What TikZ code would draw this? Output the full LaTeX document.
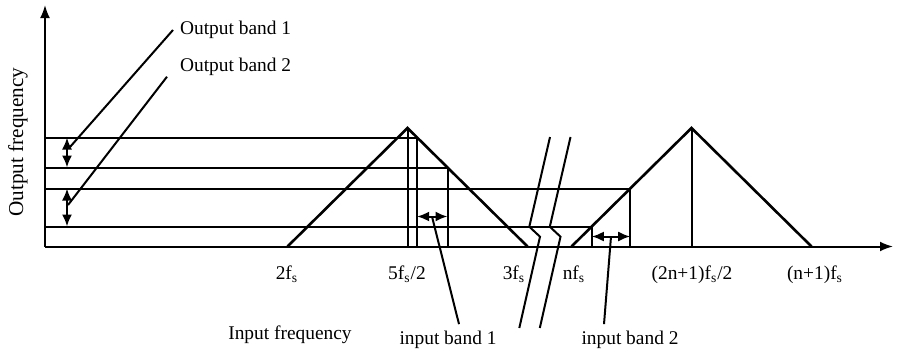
\documentclass[tikz,border=0pt]{standalone}
\usepackage{fontspec}
\setmainfont{Liberation Serif}
\usetikzlibrary{arrows.meta,calc,positioning}

\begin{document}
\begin{tikzpicture}[x=0.5pt,y=0.5pt,font=\fontsize{9.7pt}{11pt}\selectfont,
  ln/.style={line width=1pt},
  tri/.style={line width=1.3pt,line join=miter},
  band/.style={line width=1pt,{Latex[length=6pt,width=5pt]}-{Latex[length=6pt,width=5pt]}}]
\useasboundingbox (-45,-107.5) rectangle (852,246.5);
% axes
\draw[ln,-{Latex[length=6.5pt,width=5pt]}] (0,0)--(848,0);
\draw[ln,-{Latex[length=6.5pt,width=5pt]}] (0,0)--(0,241.5);
% spectra
\draw[tri] (242.5,0)--(362.5,118.5)--(482.5,0);
\draw[tri] (526.5,0)--(646.5,118.5)--(766.5,0);
\draw[ln] (362.5,0)--(362.5,118.5) (646.5,0)--(646.5,118.5);
% output levels and their input edges
\foreach \h/\e in {109/372.1,79/402.5,58/585.2,20/546.8}{
  \draw[ln] (0,\h)--(\e,\h)--(\e,0);
}
% break marks
\foreach \d in {0,20.5}{
  \draw[ln] (505+\d,109.5)--(484.3+\d,19.8)--(495+\d,9.8)--(474.3+\d,-81.5);
}
% bands
\draw[band] (22,109)--(22,79);
\draw[band] (22,58)--(22,20);
\draw[band] (372.1,30)--(402.5,30);
\draw[band] (546.8,10)--(585.2,10);
\coordinate (ob1) at (25,99.5);
\coordinate (ob2) at (23,41.5);
\coordinate (ib1) at (387,30);
\coordinate (ib2) at (566,10);
% frequency marks
\foreach \x/\t [count=\i] in {242/{2f\textsubscript{s}},362/{5f\textsubscript{s}/2},469/{3f\textsubscript{s}},
    529/{nf\textsubscript{s}},647/{(2n+1)f\textsubscript{s}/2},770/{(n+1)f\textsubscript{s}}}{
  \node[anchor=base] (mark\i) at (\x,-32.5) {\t};
}
% labels
\node[anchor=west] (outA) at (128,216.5) {Output band 1};
\node[anchor=west] (outB) at (128,179.8) {Output band 2};
\node (inA) at (403,-93.5) {input band 1};
\node (inB) at (585,-93.5) {input band 2};
\node (infreq) at (245,-88.5) {Input frequency};
\node[rotate=90,font=\fontsize{10.6pt}{12pt}\selectfont] (outfreq) at (-27,104.5) {Output frequency};
\draw[ln] (ob1)--(outA.west);
\draw[ln] (ob2)--([xshift=-3pt,yshift=-5pt]outB.west);
\draw[ln] (ib1)--([xshift=5.5pt]inA.north);
\draw[ln] (ib2)--([xshift=-13pt]inB.north);
\end{tikzpicture}
\end{document}
